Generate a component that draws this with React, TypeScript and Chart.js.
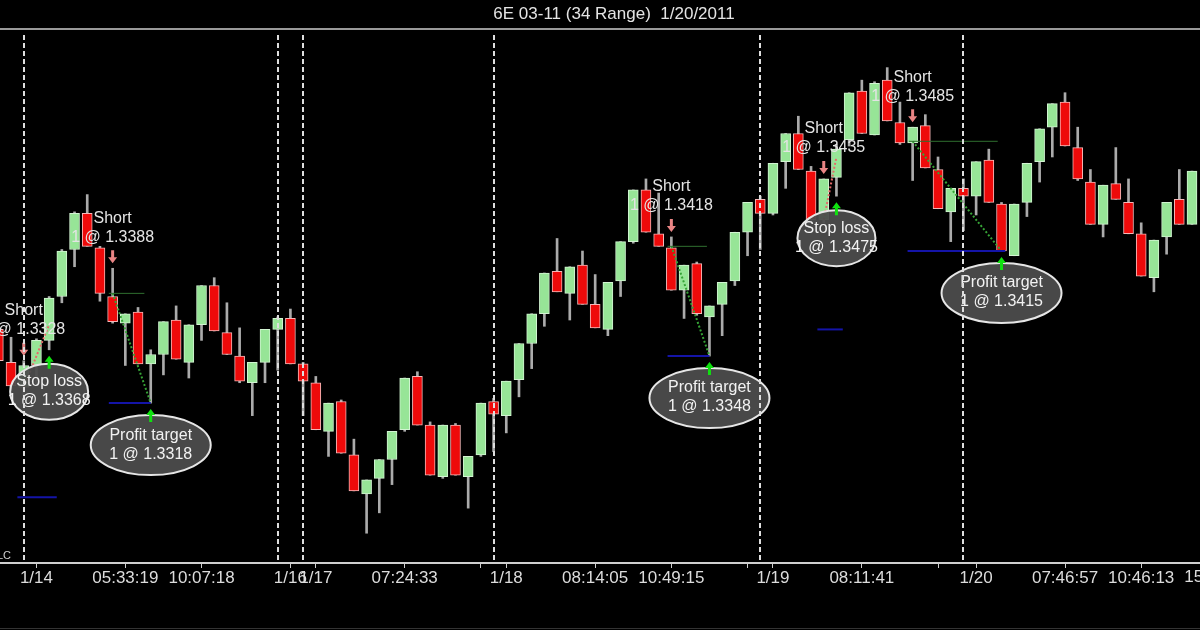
import React, { useEffect, useRef } from 'react';
import { Chart, registerables } from 'chart.js';

Chart.register(...registerables);

// ---- Data (34-tick range bars, 6E 03-11) ----
const firstBar = -1;
const openPrices = [1.3365, 1.3344, 1.3328, 1.3342, 1.3358, 1.3386, 1.3416, 1.3439, 1.3417, 1.3386, 1.3369, 1.3376, 1.3343, 1.3349, 1.3371, 1.3344, 1.3368, 1.3393, 1.3363, 1.3348, 1.3331, 1.3344, 1.3365, 1.3372, 1.3343, 1.3331, 1.3300, 1.3319, 1.3285, 1.3260, 1.3270, 1.3282, 1.3301, 1.3335, 1.3304, 1.3271, 1.3304, 1.3271, 1.3285, 1.3319, 1.3310, 1.3333, 1.3356, 1.3375, 1.3402, 1.3388, 1.3406, 1.3381, 1.3365, 1.3396, 1.3421, 1.3454, 1.3426, 1.3417, 1.3390, 1.3407, 1.3373, 1.3381, 1.3396, 1.3427, 1.3448, 1.3439, 1.3472, 1.3490, 1.3466, 1.3435, 1.3462, 1.3486, 1.3517, 1.3489, 1.3524, 1.3497, 1.3484, 1.3495, 1.3467, 1.3440, 1.3455, 1.3450, 1.3473, 1.3445, 1.3412, 1.3446, 1.3472, 1.3494, 1.3510, 1.3481, 1.3459, 1.3432, 1.3458, 1.3446, 1.3426, 1.3398, 1.3424, 1.3448, 1.3432];
const highPrices = [1.3371, 1.3360, 1.3345, 1.3359, 1.3386, 1.3416, 1.3440, 1.3451, 1.3418, 1.3404, 1.3375, 1.3379, 1.3352, 1.3370, 1.3380, 1.3368, 1.3393, 1.3398, 1.3382, 1.3366, 1.3344, 1.3365, 1.3373, 1.3378, 1.3344, 1.3335, 1.3318, 1.3320, 1.3295, 1.3269, 1.3282, 1.3300, 1.3334, 1.3338, 1.3306, 1.3304, 1.3305, 1.3284, 1.3318, 1.3321, 1.3332, 1.3356, 1.3375, 1.3401, 1.3423, 1.3405, 1.3415, 1.3400, 1.3395, 1.3421, 1.3454, 1.3461, 1.3452, 1.3424, 1.3406, 1.3408, 1.3380, 1.3395, 1.3427, 1.3446, 1.3450, 1.3471, 1.3490, 1.3501, 1.3469, 1.3461, 1.3483, 1.3516, 1.3524, 1.3523, 1.3532, 1.3510, 1.3494, 1.3502, 1.3475, 1.3455, 1.3461, 1.3472, 1.3480, 1.3446, 1.3445, 1.3471, 1.3493, 1.3509, 1.3516, 1.3494, 1.3467, 1.3457, 1.3481, 1.3461, 1.3433, 1.3422, 1.3446, 1.3467, 1.3466];
const lowPrices = [1.3338, 1.3326, 1.3321, 1.3330, 1.3352, 1.3382, 1.3405, 1.3418, 1.3383, 1.3369, 1.3342, 1.3343, 1.3318, 1.3336, 1.3346, 1.3334, 1.3358, 1.3364, 1.3349, 1.3331, 1.3310, 1.3331, 1.3339, 1.3343, 1.3310, 1.3301, 1.3284, 1.3286, 1.3262, 1.3235, 1.3248, 1.3266, 1.3300, 1.3304, 1.3272, 1.3270, 1.3272, 1.3251, 1.3284, 1.3287, 1.3299, 1.3322, 1.3340, 1.3367, 1.3389, 1.3371, 1.3381, 1.3366, 1.3361, 1.3386, 1.3420, 1.3427, 1.3418, 1.3390, 1.3372, 1.3374, 1.3348, 1.3361, 1.3393, 1.3412, 1.3416, 1.3438, 1.3455, 1.3467, 1.3435, 1.3433, 1.3450, 1.3482, 1.3490, 1.3489, 1.3498, 1.3483, 1.3460, 1.3468, 1.3442, 1.3421, 1.3428, 1.3438, 1.3446, 1.3415, 1.3412, 1.3437, 1.3459, 1.3475, 1.3482, 1.3460, 1.3432, 1.3424, 1.3448, 1.3426, 1.3399, 1.3389, 1.3413, 1.3432, 1.3432];
const closePrices = [1.3345, 1.3329, 1.3342, 1.3358, 1.3385, 1.3415, 1.3439, 1.3418, 1.3388, 1.3370, 1.3375, 1.3343, 1.3349, 1.3370, 1.3346, 1.3368, 1.3393, 1.3364, 1.3349, 1.3332, 1.3344, 1.3365, 1.3372, 1.3343, 1.3332, 1.3301, 1.3318, 1.3286, 1.3262, 1.3269, 1.3282, 1.3300, 1.3334, 1.3304, 1.3272, 1.3304, 1.3272, 1.3284, 1.3318, 1.3311, 1.3332, 1.3356, 1.3375, 1.3401, 1.3389, 1.3405, 1.3381, 1.3366, 1.3395, 1.3421, 1.3454, 1.3427, 1.3418, 1.3390, 1.3406, 1.3375, 1.3380, 1.3395, 1.3427, 1.3446, 1.3439, 1.3471, 1.3490, 1.3467, 1.3435, 1.3461, 1.3480, 1.3516, 1.3490, 1.3522, 1.3498, 1.3484, 1.3494, 1.3468, 1.3442, 1.3455, 1.3450, 1.3472, 1.3446, 1.3415, 1.3445, 1.3471, 1.3493, 1.3509, 1.3482, 1.3461, 1.3432, 1.3457, 1.3448, 1.3426, 1.3399, 1.3422, 1.3446, 1.3432, 1.3466];

const tickBars = [2, 9, 15, 22, 24, 31, 37, 39, 46, 52, 58, 60, 67, 73, 76, 83, 89];
const tickLabels = ['1/14', '05:33:19', '10:07:18', '1/16', '1/17', '07:24:33', '', '1/18', '08:14:05', '10:49:15', '', '1/19', '08:11:41', '', '1/20', '07:46:57', '10:46:13'];
const edgeTickBar = 95;
const edgeTickLabel = '15:02:36';
const sessionBreakBars = [1, 21, 23, 38, 59, 75];

const tradeEntryBar = [1, 8, 52, 64, 71];
const tradeEntryPrice = [1.3328, 1.3388, 1.3418, 1.3435, 1.3485];
const tradeExitBar = [3, 11, 55, 65, 78];
const tradeExitPrice = [1.3368, 1.3318, 1.3348, 1.3475, 1.3415];
const tradeExitName = ['Stop loss', 'Profit target', 'Profit target', 'Stop loss', 'Profit target'];
const targetOrderPrice = [1.3258, 1.3318, 1.3348, 1.3365, 1.3415];
const targetOrderFrom = [0.5, 7.7, 51.7, 63.5, 70.6];
const targetOrderTo = [3.6, 11, 55, 65.5, 78.3];
const entryLineTo = [null, 10.5, 54.8, null, 77.7];

const chartTitle = '6E 03-11 (34 Range)  1/20/2011';

// ---- Styles ----
const GREEN_BODY = '#97e597';
const GREEN_EDGE = '#d2f4d2';
const RED_BODY = '#ee0a0a';
const RED_EDGE = '#f5b8b8';
const WICK = '#ababab';
const TEXT = '#e4e4e4';
const FONT = '"Liberation Sans", Arial, sans-serif';
const ellipseHalfWidth: Record<string, number> = { 'Stop loss': 39, 'Profit target': 60 };
const ellipseHalfHeight: Record<string, number> = { 'Stop loss': 28, 'Profit target': 30 };

const barX = openPrices.map((_, k) => k + firstBar);

function drawArrow(ctx: CanvasRenderingContext2D, x: number, yTop: number, yBottom: number, down: boolean, color: string) {
  const headH = 6;
  const headW = 4.5;
  ctx.fillStyle = color;
  ctx.beginPath();
  if (down) {
    ctx.rect(x - 1.5, yTop, 3, yBottom - yTop - headH);
    ctx.moveTo(x - headW, yBottom - headH);
    ctx.lineTo(x + headW, yBottom - headH);
    ctx.lineTo(x, yBottom);
  } else {
    ctx.rect(x - 1.5, yTop + headH, 3, yBottom - yTop - headH);
    ctx.moveTo(x - headW, yTop + headH);
    ctx.lineTo(x + headW, yTop + headH);
    ctx.lineTo(x, yTop);
  }
  ctx.closePath();
  ctx.fill();
}

const overlayPlugin = {
  id: 'tradeOverlay',
  afterDatasetsDraw(chart: any) {
    const { ctx, chartArea, scales } = chart;
    const x = scales.x;
    const y = scales.y;
    ctx.save();
    ctx.beginPath();
    ctx.rect(chartArea.left, chartArea.top, chartArea.right - chartArea.left, chartArea.bottom - chartArea.top);
    ctx.clip();
    ctx.font = `16px ${FONT}`;
    ctx.textAlign = 'center';
    ctx.textBaseline = 'middle';

    tradeEntryBar.forEach((b, k) => {
      const px = x.getPixelForValue(b);
      const hy = y.getPixelForValue(highPrices[b - firstBar]);
      drawArrow(ctx, px, hy - 18, hy - 5, true, '#e98585');
      ctx.fillStyle = TEXT;
      ctx.fillText('Short', px, hy - 50);
      ctx.fillText(`1 @ ${tradeEntryPrice[k].toFixed(4)}`, px, hy - 31);
    });

    tradeExitBar.forEach((b, k) => {
      const px = x.getPixelForValue(b);
      const ly = y.getPixelForValue(lowPrices[b - firstBar]);
      const name = tradeExitName[k];
      ctx.beginPath();
      ctx.ellipse(px, ly + 42, ellipseHalfWidth[name], ellipseHalfHeight[name], 0, 0, Math.PI * 2);
      ctx.fillStyle = 'rgba(76,76,76,0.95)';
      ctx.fill();
      ctx.lineWidth = 2;
      ctx.strokeStyle = '#e6e6e6';
      ctx.stroke();
      ctx.fillStyle = '#f2f2f2';
      ctx.fillText(name, px, ly + 32);
      ctx.fillText(`1 @ ${tradeExitPrice[k].toFixed(4)}`, px, ly + 51);
      drawArrow(ctx, px, ly + 6, ly + 19, false, '#10e010');
    });
    ctx.restore();
  },
  afterDraw(chart: any) {
    const { ctx, chartArea, scales } = chart;
    const x = scales.x;
    ctx.save();
    // session separators
    ctx.strokeStyle = '#dedede';
    ctx.lineWidth = 2;
    ctx.setLineDash([5, 3]);
    sessionBreakBars.forEach((b) => {
      const px = Math.round(x.getPixelForValue(b));
      ctx.beginPath();
      ctx.moveTo(px, chartArea.top + 5);
      ctx.lineTo(px, chartArea.bottom);
      ctx.stroke();
    });
    ctx.setLineDash([]);
    // header rule + title
    ctx.strokeStyle = '#9a9a9a';
    ctx.lineWidth = 2;
    ctx.beginPath();
    ctx.moveTo(0, 29);
    ctx.lineTo(chart.width, 29);
    ctx.stroke();
    ctx.fillStyle = TEXT;
    ctx.font = `17px ${FONT}`;
    ctx.textAlign = 'center';
    ctx.textBaseline = 'middle';
    ctx.fillText(chartTitle, 614, 14);
    // edge tick label (partially off canvas)
    const ex = x.getPixelForValue(edgeTickBar);
    ctx.fillStyle = '#dcdcdc';
    ctx.textBaseline = 'top';
    ctx.fillText(edgeTickLabel, ex, chartArea.bottom + 6);
    // copyright fragment
    ctx.font = `11px ${FONT}`;
    ctx.textAlign = 'right';
    ctx.textBaseline = 'middle';
    ctx.fillStyle = '#cfcfcf';
    ctx.fillText('© NinjaTrader, LLC', 11, 556);
    // bottom frame line
    ctx.strokeStyle = '#333333';
    ctx.lineWidth = 1;
    ctx.beginPath();
    ctx.moveTo(0, 628.5);
    ctx.lineTo(chart.width, 628.5);
    ctx.stroke();
    ctx.restore();
  },
};

export default function App() {
  const canvasRef = useRef<HTMLCanvasElement>(null);

  useEffect(() => {
    document.body.style.margin = '0';
    document.body.style.background = '#000';
    const canvas = canvasRef.current;
    if (!canvas) return;

    const lineDatasets: any[] = [];
    tradeEntryBar.forEach((b, k) => {
      lineDatasets.push({
        type: 'line',
        data: [{ x: targetOrderFrom[k], y: targetOrderPrice[k] }, { x: targetOrderTo[k], y: targetOrderPrice[k] }],
        borderColor: '#1414a8',
        borderWidth: 2,
        pointRadius: 0,
        order: 0,
      });
      const lineEnd = entryLineTo[k];
      if (lineEnd !== null) {
        lineDatasets.push({
          type: 'line',
          data: [{ x: b - 0.3, y: tradeEntryPrice[k] }, { x: lineEnd, y: tradeEntryPrice[k] }],
          borderColor: '#2f6f2f',
          borderWidth: 1,
          pointRadius: 0,
          order: 0,
        });
      }
      const win = tradeExitName[k] === 'Profit target';
      lineDatasets.push({
        type: 'line',
        data: [{ x: b, y: tradeEntryPrice[k] }, { x: tradeExitBar[k], y: tradeExitPrice[k] }],
        borderColor: win ? '#36a336' : '#e66a6a',
        borderWidth: 2,
        borderDash: [2, 2],
        pointRadius: 0,
        order: 0,
      });
    });

    const up = openPrices.map((o, k) => closePrices[k] >= o);

    const chart = new Chart(canvas, {
      type: 'bar',
      data: {
        datasets: [
          {
            type: 'bar',
            data: barX.map((bx, k) => ({ x: bx, y: [openPrices[k], closePrices[k]] })),
            backgroundColor: up.map((u) => (u ? GREEN_BODY : RED_BODY)),
            borderColor: up.map((u) => (u ? GREEN_EDGE : RED_EDGE)),
            borderWidth: 1,
            borderSkipped: false,
            barThickness: 10,
            grouped: false,
            order: 1,
          },
          {
            type: 'bar',
            data: barX.map((bx, k) => ({ x: bx, y: [lowPrices[k], highPrices[k]] })),
            backgroundColor: WICK,
            borderWidth: 0,
            barThickness: 2,
            grouped: false,
            order: 2,
          },
          ...lineDatasets,
        ],
      } as any,
      options: {
        responsive: false,
        animation: false,
        devicePixelRatio: 1,
        layout: { padding: { top: 30, left: 0, right: 0, bottom: 0 }, autoPadding: false } as any,
        plugins: {
          legend: { display: false },
          tooltip: { enabled: false },
          title: { display: false },
        },
        scales: {
          x: {
            type: 'linear',
            min: -0.87,
            max: 93.63,
            offset: false,
            afterBuildTicks: (axis: any) => {
              axis.ticks = tickBars.map((v) => ({ value: v }));
            },
            afterFit: (axis: any) => {
              axis.height = 67;
            },
            ticks: {
              autoSkip: false,
              maxRotation: 0,
              minRotation: 0,
              color: '#dcdcdc',
              font: { family: FONT, size: 17 },
              padding: 0,
              callback: (value: any) => {
                const idx = tickBars.indexOf(Number(value));
                return idx >= 0 ? tickLabels[idx] : '';
              },
            },
            grid: { display: true, drawOnChartArea: false, drawTicks: true, tickLength: 5, color: '#cfcfcf', offset: false },
            border: { display: true, color: '#cfcfcf', width: 2 },
          },
          y: {
            type: 'linear',
            display: false,
            min: 1.3216,
            max: 1.3556,
          },
        },
      } as any,
      plugins: [overlayPlugin],
    });

    return () => chart.destroy();
  }, []);

  return (
    <div style={{ width: 1200, height: 630, background: '#000', overflow: 'hidden' }}>
      <canvas ref={canvasRef} width={1200} height={630} style={{ display: 'block' }} />
    </div>
  );
}
